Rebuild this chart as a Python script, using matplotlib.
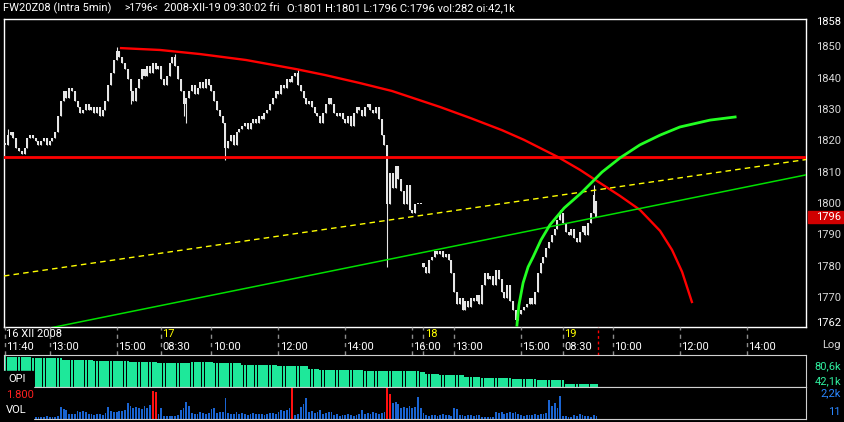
import numpy as np
import matplotlib
matplotlib.use("Agg")
import matplotlib.pyplot as plt
from matplotlib.patches import Rectangle

plt.rcParams['font.family'] = ['Roboto', 'DejaVu Sans']
FS = 8

W, H = 844, 422

# closes, 5 min bars
c_d16 = [1819, 1822, 1823, 1821, 1818, 1817, 1816, 1818, 1821, 1822,
         1821, 1820, 1819, 1820, 1821, 1819, 1820, 1821, 1823, 1828,
         1833, 1836, 1834, 1837, 1836,
         1833, 1831, 1829, 1830, 1832, 1830, 1831, 1829, 1831, 1828, 1830,
         1833, 1838, 1842, 1846, 1849, 1847, 1845, 1843, 1840,
         1836, 1833, 1837, 1840, 1843, 1841, 1844, 1842, 1845, 1843, 1844]
c_d17 = [1840, 1838, 1841, 1845, 1847, 1844, 1840, 1836, 1832, 1834,
         1836, 1838, 1835, 1837, 1839, 1837, 1840, 1838, 1836,
         1833, 1830, 1828, 1826, 1818, 1820, 1822, 1819, 1823,
         1824, 1825, 1826, 1824, 1826, 1827, 1826, 1828, 1827, 1829, 1830,
         1832, 1834, 1836, 1835, 1838, 1837, 1840, 1839, 1841,
         1842, 1838, 1836, 1834, 1832, 1833, 1831, 1829,
         1828, 1826, 1829, 1832, 1834, 1832, 1829, 1828,
         1829, 1827, 1826, 1828, 1825, 1829, 1831, 1830, 1828, 1831,
         1832, 1830, 1829, 1831, 1827, 1822, 1819, 1800,
         1810, 1805, 1812, 1808, 1804, 1800, 1806, 1798,
         1797, 1800, 1800, 1800]
c_d18 = [1780, 1778, 1782, 1783, 1785, 1784, 1785, 1783, 1784, 1782, 1778,
         1772, 1768, 1770, 1766, 1769, 1767, 1770, 1769, 1771, 1768,
         1774, 1778, 1776, 1777, 1774, 1779, 1776, 1772, 1770, 1774, 1769,
         1766, 1763, 1765, 1766, 1767, 1768, 1770, 1768, 1772,
         1778, 1781, 1783, 1786, 1788, 1790, 1792, 1795, 1797]
c_d19 = [1794, 1791, 1790, 1792, 1789, 1788, 1791, 1793, 1790, 1794, 1797, 1803, 1796]

first_open = 1819
open_fix = {150: 1781, 212: 1801}
wick_hi = {1: 1824, 40: 1850, 61: 1848, 105: 1843, 136: 1821, 137: 1818,
           199: 1798, 211: 1806, 212: 1801}
wick_lo = {45: 1832, 64: 1828, 65: 1826, 79: 1814, 137: 1780, 183: 1762, 212: 1796}

# open interest (k) as levels and run lengths
oi_levels = [80.6, 79.3, 77.5, 74.8, 73.1, 72.1, 70.8, 72.1, 70.4, 68.5, 66.3,
             63.1, 61.8, 60.0, 59.1, 55.6, 54.2, 52.3, 50.6, 49.2, 47.5, 42.1]
oi_runs = [1, 9, 11, 11, 13, 10, 12, 8, 10, 13, 11, 4, 16, 20, 2, 5, 9, 6, 11, 9, 10, 12]

# volume
v_d16 = [250, 300, 200, 350, 280, 220, 300, 260, 240, 300, 200,
         150, 150, 180, 150, 200, 150, 150, 180, 200,
         900, 780, 700, 380, 400, 350, 600, 550, 580, 520,
         350, 380, 300, 400, 350, 300, 420, 900,
         600, 550, 500, 620, 580, 650, 1200, 1000,
         850, 900, 800, 750, 950, 850, 1050, 2100, 2050, 400]
v_d17 = [800, 250, 200, 230, 250, 220, 300, 650, 850, 1250, 1000,
         450, 400, 380, 500, 420, 350, 450, 750, 800, 450, 500, 550, 1550,
         450, 400, 350, 500, 380, 420, 350, 300, 400, 450, 350, 400, 380, 300,
         350, 420, 480, 400, 500,
         650, 600, 700, 800, 2300, 300, 350, 900, 1100, 1550,
         550, 600, 450, 500, 650, 400, 450, 550, 500,
         300, 350, 250, 300, 280, 350, 300, 250, 320, 380, 700,
         400, 450, 350, 500, 420, 380, 450, 500, 3000, 1850,
         1200, 1250, 1150, 850, 900, 800, 950, 850, 900, 1650, 800]
v_d18 = [450, 300, 250, 280, 320, 250, 300, 350, 280, 300, 250,
         800, 750, 300, 280, 250, 320, 300, 250, 280, 300,
         150, 120, 180, 150, 130,
         500, 450, 550, 400, 480, 520, 450, 500, 380,
         300, 250, 280, 320, 300, 350, 280, 400, 350, 450,
         1450, 1000, 1200, 800, 1750]
v_d19 = [200, 250, 150, 180, 300, 220, 350, 300, 200, 250, 180, 300, 200]

# trend lines / arcs (bar index, price)
hline_price = 1815.0
red_arc_x = [41.6, 55.6, 69.9, 86.4, 104.3, 114.7, 126.9, 138.7, 155.9, 166.7, 178.1,
             186.0, 198.2, 206.1, 213.3, 220.4, 227.6, 234.8, 239.1, 242.7, 246.2]
red_arc_y = [1849.8, 1849.2, 1847.9, 1846.0, 1843.1, 1841.2, 1838.7, 1836.1, 1831.0,
             1827.5, 1823.6, 1820.5, 1815.0, 1810.9, 1806.7, 1802.6, 1798.1, 1791.4,
             1785.3, 1778.3, 1768.7]
grn_arc_x = [183.5, 184.2, 185.7, 187.5, 189.3, 192.1, 195.3, 200.4, 206.5, 214.0,
             220.4, 227.6, 234.8, 241.9, 252.7, 261.7]
grn_arc_y = [1761.3, 1767.7, 1774.8, 1779.9, 1783.1, 1788.5, 1793.3, 1798.7, 1803.5,
             1810.2, 1814.7, 1818.9, 1822.0, 1824.6, 1826.8, 1827.8]
grn_line_x = [-0.4, 287.1]
grn_line_y = [1757.4, 1809.3]
yel_line_x = [-0.4, 287.1]
yel_line_y = [1777.0, 1814.2]

tick_idx = [0, 16, 40, 56, 74, 98, 122, 146, 150, 161, 185, 200, 218, 242, 266]
tick_time = ["11:40", "13:00", "15:00", "08:30", "10:00", "12:00", "14:00", "16:00",
             "", "13:00", "15:00", "08:30", "10:00", "12:00", "14:00"]
day_marks = {0: "16 XII 2008", 56: "17", 150: "18", 200: "19"}
now_idx = 212.5

price_ticks = [1858, 1850, 1840, 1830, 1820, 1810, 1800, 1790, 1780, 1770, 1762]

close = np.array(c_d16 + c_d17 + c_d18 + c_d19, float)
n = len(close)
idx = np.arange(n)
opn = np.r_[first_open, close[:-1]]
for k, v in open_fix.items():
    opn[k] = v
hi = np.maximum(opn, close)
lo = np.minimum(opn, close)
for k, v in wick_hi.items():
    hi[k] = max(hi[k], v)
for k, v in wick_lo.items():
    lo[k] = min(lo[k], v)
oi = np.repeat(oi_levels, oi_runs)
vol = np.array(v_d16 + v_d17 + v_d18 + v_d19, float)

XL = (-0.36, 287.1)
fig = plt.figure(figsize=(W / 100, H / 100), dpi=100, facecolor='black')


def px_axes(x0, y0, x1, y1):
    a = fig.add_axes([x0 / W, 1 - y1 / H, (x1 - x0) / W, (y1 - y0) / H])
    a.set_facecolor('black')
    a.set_xlim(*XL)
    a.set_xticks([])
    a.set_yticks([])
    return a


def ftext(x, y, s, **kw):
    kw.setdefault('va', 'center')
    kw.setdefault('fontsize', FS)
    kw.setdefault('color', 'white')
    fig.text(x / W, 1 - y / H, s, **kw)


# price panel
ax = px_axes(4, 19, 806, 327)
ax.set_ylim(1760.7, 1859.1)
for s in ax.spines.values():
    s.set_color('white')
    s.set_linewidth(1)
body = np.maximum(np.abs(close - opn), 0.35)
ax.vlines(idx, lo, hi, color='#e6e6e6', lw=0.8, zorder=3)
ax.bar(idx, body, bottom=np.minimum(opn, close), width=0.72, color='#e6e6e6', zorder=3)
ax.axhline(hline_price, color='#ff0000', lw=2, zorder=4)
ax.plot(red_arc_x, red_arc_y, color='#ff0000', lw=1.7, zorder=4)
ax.plot(grn_line_x, grn_line_y, color='#00e000', lw=1.1, zorder=4)
ax.plot(yel_line_x, yel_line_y, color='#ffff00', lw=1, dashes=(4, 3), zorder=4)
ax.plot(grn_arc_x, grn_arc_y, color='#22ff22', lw=2, zorder=5)
for p in price_ticks:
    c = 'white' if p in (1858, 1762) else '#d8d8d8'
    ax.text(1.0436, p, str(p), transform=ax.get_yaxis_transform(), ha='right',
            va='center', fontsize=FS, color=c, clip_on=False)

# time strip
st = px_axes(4, 327, 806, 355)
st.set_ylim(0, 1)
st.axis('off')
st.vlines(tick_idx, 0, 1, color='#8c8c8c', lw=1, linestyles=(0, (3, 3)))
st.vlines([now_idx], 0, 1, color='#ff0000', lw=1, linestyles=(0, (2, 2)))
for i, t in zip(tick_idx, tick_time):
    st.text(i + 0.4, 0.29, t, ha='left', va='center', fontsize=FS, color='white')
for i, t in day_marks.items():
    st.text(i + 0.4, 0.75, t, ha='left', va='center', fontsize=FS,
            color='white' if i == 0 else '#ffff00')

# open interest
ao = px_axes(4, 355, 806, 387)
ao.set_ylim(38.5, 81.5)
ao.bar(idx, oi, width=0.85, color='#1ee89a')
for s in ao.spines.values():
    s.set_color('#d0d0d0')

# volume
av = px_axes(4, 387, 806, 419)
av.set_ylim(0, 2400)
av.bar(idx, vol, width=0.65, color=np.where(vol > 1800, '#ff1010', '#1a64d2'))
for s in av.spines.values():
    s.set_color('#d0d0d0')

fig.patches.append(Rectangle((3 / W, 1 - 421 / H), 30 / W, 50 / H,
                             transform=fig.transFigure, color='black', zorder=5))
ftext(8, 379, "OPI", zorder=6)
ftext(6, 395, "1.800", color='#ff2020', zorder=6)
ftext(6, 410, "VOL", zorder=6)

# right side labels
fig.patches.append(Rectangle((808 / W, 1 - 223 / H), 35 / W, 12 / H,
                             transform=fig.transFigure, color='#d00000', zorder=5))
ftext(841, 217, "1796", ha='right', zorder=6)
ftext(841, 345, "Log", ha='right', color='#d8d8d8')
ftext(841, 366, "80,6k", ha='right', color='#30f0a0')
ftext(841, 381, "42,1k", ha='right', color='#30f0a0')
ftext(841, 393, "2,2k", ha='right', color='#2a86ff')
ftext(841, 412, "11", ha='right', color='#2a86ff')

# header
ftext(3, 8, "FW20Z08 (Intra 5min)")
ftext(124, 8, ">1796<", fontsize=7.5)
ftext(164, 8, "2008-XII-19 09:30:02 fri")
ftext(287, 8, "O:1801 H:1801 L:1796 C:1796 vol:282 oi:42,1k")

fig.savefig("out.png", dpi=100, facecolor='black')
